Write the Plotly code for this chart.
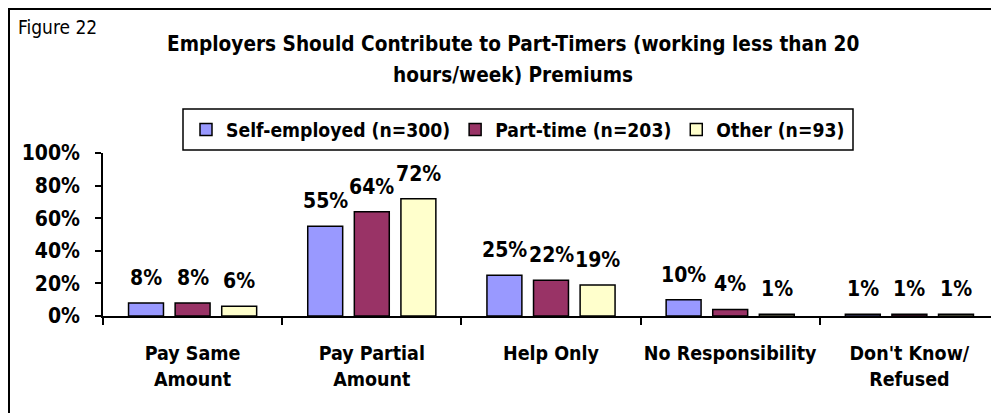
import plotly.graph_objects as go

categories = ["Pay Same<br>Amount", "Pay Partial<br>Amount", "Help Only", "No Responsibility", "Don't Know/<br>Refused"]
series_names = ["Self-employed (n=300)", "Part-time (n=203)", "Other (n=93)"]
self_employed = [8, 55, 25, 10, 1]
part_time = [8, 64, 22, 4, 1]
other = [6, 72, 19, 1, 1]
colors = ["#9999FF", "#993366", "#FFFFCC"]
y_ticks = [0, 20, 40, 60, 80, 100]
title_lines = ["Employers Should Contribute to Part-Timers (working less than 20",
               "hours/week) Premiums"]

# page has an 8px body margin; lay out in page pixels and convert
OFF = 8
PAGE_W, PAGE_H = 999, 413
W, H = PAGE_W - OFF, PAGE_H - OFF
PLOT_LEFT, PLOT_RIGHT, PLOT_TOP, PLOT_BOTTOM = 103, 999, 153, 316  # page px
L, R = PLOT_LEFT - OFF, PAGE_W - PLOT_RIGHT
T, B = PLOT_TOP - OFF, PAGE_H - PLOT_BOTTOM
PW, PH = PLOT_RIGHT - PLOT_LEFT, PLOT_BOTTOM - PLOT_TOP
BARGAP, GROUPGAP = 0.22, 0.25

def xp(px):
    return (px - PLOT_LEFT) / PW

def yp(py):
    return (PLOT_BOTTOM - py) / PH

COND = "DejaVu Sans Condensed, Liberation Sans, Arial"

fig = go.Figure()
all_series = [self_employed, part_time, other]
for name, vals, col in zip(series_names, all_series, colors):
    fig.add_trace(go.Bar(
        x=categories, y=vals, name=f"<b>{name}</b>",
        marker=dict(color=col, line=dict(color="black", width=1.5)),
        hoverinfo="skip",
    ))

# data labels
slot = PW / len(categories) * (1 - BARGAP) / len(all_series)
annotations = []
for i, vals in enumerate(all_series):
    for c, v in zip(categories, vals):
        annotations.append(dict(
            x=c, y=v, xref="x", yref="y", text=f"<b>{v}%</b>", showarrow=False,
            xshift=(i - 1) * slot, yshift=25,
            font=dict(family=COND, size=21, color="black"),
        ))

# title as two centred lines
for line, yc in zip(title_lines, [44, 75]):
    annotations.append(dict(
        x=xp(513), y=yp(yc), xref="paper", yref="paper", xanchor="center", yanchor="middle",
        text=f"<b>{line}</b>", showarrow=False,
        font=dict(family=COND, size=20.6, color="black"),
    ))

annotations.append(dict(
    x=xp(16), y=yp(27), xref="paper", yref="paper", xanchor="left", yanchor="middle",
    text="Figure 22", showarrow=False, font=dict(family=COND, size=19, color="black"),
))

fig.update_layout(
    width=W, height=H,
    margin=dict(l=L, r=R, t=T, b=B, pad=0),
    paper_bgcolor="white", plot_bgcolor="white",
    barmode="group", bargap=BARGAP, bargroupgap=GROUPGAP,
    legend=dict(
        orientation="h", x=xp(186), y=yp(129.5), xanchor="left", yanchor="middle",
        borderwidth=0, bgcolor="rgba(0,0,0,0)",
        font=dict(family=COND, size=19.2, color="black"),
        traceorder="normal",
    ),
    xaxis=dict(
        showline=True, linecolor="black", linewidth=1.5,
        ticks="outside", tickson="boundaries", ticklen=7, tickcolor="black", tickwidth=1.5,
        tickfont=dict(family=COND, size=19.5, color="black"),
        tickangle=0, automargin=False, ticklabelstandoff=19,
        showgrid=False, fixedrange=True,
    ),
    yaxis=dict(
        range=[0, 100], tickvals=y_ticks, ticktext=[f"<b>{t}%</b>" for t in y_ticks],
        showline=True, linecolor="black", linewidth=1.5,
        ticks="outside", ticklen=6, tickcolor="black", tickwidth=1.5,
        tickfont=dict(family=COND, size=21, color="black"),
        automargin=False, ticklabelstandoff=11,
        showgrid=False, zeroline=False, fixedrange=True,
    ),
    annotations=annotations,
    shapes=[
        dict(type="rect", xref="paper", yref="paper",
             x0=xp(OFF + 1), x1=xp(1010), y0=yp(425), y1=yp(OFF + 1),
             line=dict(color="black", width=2), layer="below"),
        dict(type="rect", xref="paper", yref="paper",
             x0=xp(183), x1=xp(853), y0=yp(150), y1=yp(109),
             line=dict(color="black", width=1.5), fillcolor="white", layer="below"),
    ],
    showlegend=True,
)
fig.update_xaxes(ticktext=[f"<b>{c}</b>" for c in categories], tickvals=categories)

fig.write_html("out.html")
